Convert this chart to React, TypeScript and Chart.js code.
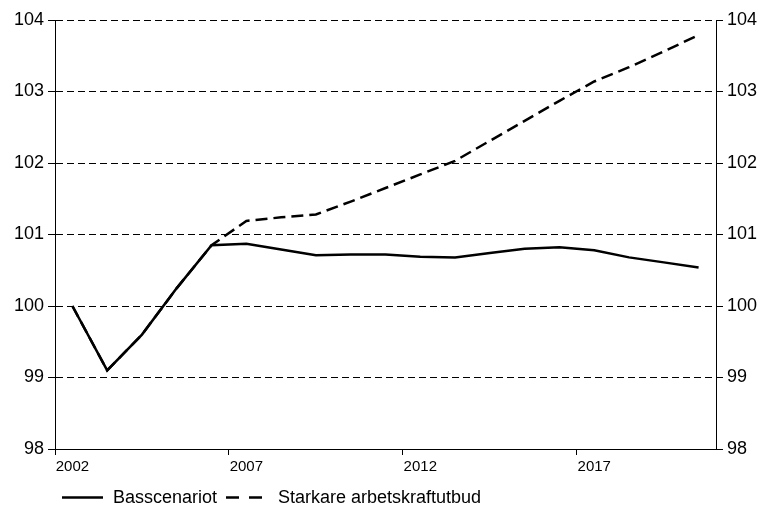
import React, { useEffect, useRef } from "react";
import { Chart, registerables } from "chart.js";

Chart.register(...registerables);

const years = [
  "2002", "2003", "2004", "2005", "2006", "2007", "2008", "2009", "2010", "2011",
  "2012", "2013", "2014", "2015", "2016", "2017", "2018", "2019", "2020",
];
const basscenariot = [
  100.0, 99.1, 99.6, 100.25, 100.85, 100.87, 100.79, 100.71, 100.72, 100.72,
  100.69, 100.68, 100.74, 100.8, 100.82, 100.78, 100.68, 100.61, 100.54,
];
const starkare = [
  100.0, 99.1, 99.6, 100.25, 100.85, 101.19, 101.24, 101.28, 101.46, 101.65,
  101.84, 102.03, 102.31, 102.59, 102.87, 103.14, 103.34, 103.56, 103.79,
];
const yMin = 98;
const yMax = 104;
const yStep = 1;
const legendLabels = ["Basscenariot", "Starkare arbetskraftutbud"];

const FONT = "'Liberation Sans', Arial, sans-serif";

export default function App() {
  const ref = useRef<HTMLCanvasElement>(null);

  useEffect(() => {
    const tickFontY = { family: FONT, size: 18 };
    const chart = new Chart(ref.current as HTMLCanvasElement, {
      type: "line",
      data: {
        labels: years,
        datasets: [
          {
            label: legendLabels[0],
            data: basscenariot,
            borderColor: "#000",
            borderWidth: 2.5,
            pointRadius: 0,
            tension: 0,
            fill: false,
            yAxisID: "y",
          },
          {
            label: legendLabels[1],
            data: starkare,
            borderColor: "#000",
            borderWidth: 2.5,
            borderDash: [12, 6],
            pointRadius: 0,
            tension: 0,
            fill: false,
            yAxisID: "y",
          },
        ],
      },
      options: {
        responsive: false,
        animation: false,
        devicePixelRatio: 1,
        layout: { padding: { top: 20, left: 0, right: 0, bottom: 32 } },
        plugins: { legend: { display: false }, tooltip: { enabled: false } },
        scales: {
          x: {
            type: "category",
            offset: true,
            grid: {
              offset: true,
              drawOnChartArea: false,
              tickLength: 6,
              lineWidth: 1,
              color: (c: any) => (c.index % 5 === 0 ? "#000" : "rgba(0,0,0,0)"),
            },
            border: { color: "#000", width: 1 },
            ticks: {
              autoSkip: false,
              maxRotation: 0,
              minRotation: 0,
              color: "#000",
              padding: 3,
              font: { family: FONT, size: 15 },
              callback: (_v: any, i: number) => (i % 5 === 0 ? years[i] : ""),
            },
            afterFit: (s: any) => {
              s.height = 25;
            },
          },
          y: {
            position: "left",
            min: yMin,
            max: yMax,
            ticks: { stepSize: yStep, color: "#000", padding: 4, font: tickFontY },
            grid: { color: "#000", lineWidth: 1, tickLength: 7, tickBorderDash: [] },
            border: { color: "#000", width: 1, dash: [7, 4] },
            afterFit: (s: any) => {
              s.width = 55;
            },
          },
          y2: {
            position: "right",
            min: yMin,
            max: yMax,
            ticks: { stepSize: yStep, color: "#000", padding: 4, font: tickFontY },
            grid: { drawOnChartArea: false, color: "#000", lineWidth: 1, tickLength: 7 },
            border: { color: "#000", width: 1 },
            afterFit: (s: any) => {
              s.width = 46;
            },
          },
        },
      },
    } as any);
    return () => chart.destroy();
  }, []);

  const textStyle: React.CSSProperties = {
    position: "absolute",
    top: 487,
    height: 20,
    lineHeight: "20px",
    fontFamily: FONT,
    fontSize: 18,
    color: "#000",
    whiteSpace: "nowrap",
  };

  return (
    <div style={{ position: "absolute", left: 0, top: 0, width: 762, height: 506, background: "#fff" }}>
      <canvas ref={ref} width={762} height={506} style={{ display: "block" }} />
      <svg
        width={762}
        height={506}
        style={{ position: "absolute", left: 0, top: 0, pointerEvents: "none" }}
      >
        <line x1={62} y1={497.5} x2={103} y2={497.5} stroke="#000" strokeWidth={2.5} />
        <line x1={226} y1={497.5} x2={262} y2={497.5} stroke="#000" strokeWidth={2.5} strokeDasharray="13 10" />
      </svg>
      <span style={{ ...textStyle, left: 113 }}>{legendLabels[0]}</span>
      <span style={{ ...textStyle, left: 278 }}>{legendLabels[1]}</span>
    </div>
  );
}
